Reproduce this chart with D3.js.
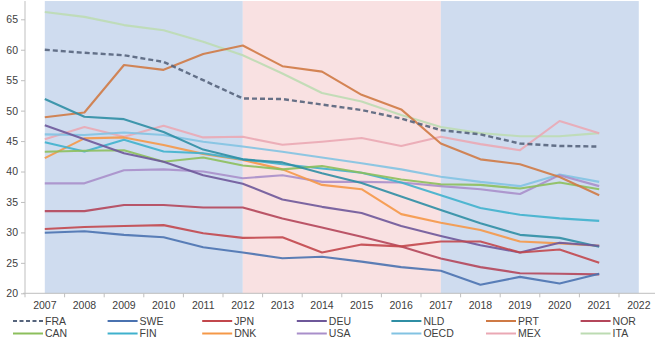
<!DOCTYPE html>
<html>
<head>
  <meta charset="utf-8">
  <title>chart</title>
  <style>
    body { margin: 0; padding: 0; background: #fff; }
    svg { display: block; font-family: "Liberation Sans", Arial, sans-serif; }
  </style>
</head>
<body>
  <script src="https://d3js.org/d3.v7.min.js"></script>
  <div id="my_dataviz"></div>
  <script>
    // categories on the axis
    var axisYears = [2007, 2008, 2009, 2010, 2011, 2012, 2013, 2014, 2015, 2016, 2017, 2018, 2019, 2020, 2021, 2022]
    var years = [2007, 2008, 2009, 2010, 2011, 2012, 2013, 2014, 2015, 2016, 2017, 2018, 2019, 2020, 2021]
    var yTicks = [20, 25, 30, 35, 40, 45, 50, 55, 60, 65]

    // shaded periods (start, end year)
    var periods = [[2007, 2012, "#cfdcef"], [2012, 2017, "#f9e1e2"], [2017, 2022, "#cfdcef"]]

    // series values
    var FRA = [60.0, 59.5, 59.1, 58.0, 55.0, 52.0, 51.9, 51.0, 50.1, 48.7, 46.8, 46.1, 44.6, 44.2, 44.1]
    var SWE = [29.95, 30.2, 29.6, 29.2, 27.55, 26.7, 25.75, 26.0, 25.2, 24.3, 23.7, 21.4, 22.7, 21.6, 23.2]
    var JPN = [30.55, 30.9, 31.05, 31.2, 29.85, 29.1, 29.2, 26.7, 28.0, 27.7, 28.5, 28.5, 26.7, 27.2, 25.0]
    var DEU = [47.6, 45.3, 43.0, 41.6, 39.4, 38.0, 35.4, 34.2, 33.2, 31.05, 29.4, 27.9, 26.7, 28.3, 27.8]
    var NLD = [51.9, 49.0, 48.6, 46.5, 43.6, 42.0, 41.5, 39.7, 38.1, 35.9, 33.7, 31.5, 29.6, 29.1, 27.65]
    var PRT = [48.9, 49.7, 57.5, 56.7, 59.3, 60.7, 57.3, 56.4, 52.6, 50.2, 44.6, 42.0, 41.2, 39.1, 36.1]
    var NOR = [33.5, 33.5, 34.5, 34.5, 34.1, 34.1, 32.3, 30.8, 29.3, 27.7, 25.7, 24.3, 23.3, 23.2, 23.1]
    var CAN = [43.25, 43.4, 43.5, 41.6, 42.3, 41.0, 40.35, 40.9, 39.8, 38.7, 37.9, 37.8, 37.2, 38.2, 37.1]
    var FIN = [44.8, 43.3, 45.2, 43.3, 43.0, 42.0, 41.2, 40.5, 39.8, 38.2, 36.1, 34.0, 32.9, 32.3, 31.9]
    var DNK = [42.2, 45.45, 45.6, 44.35, 42.9, 41.9, 40.35, 37.8, 37.1, 33.0, 31.6, 30.4, 28.5, 28.2, 27.8]
    var USA = [38.06, 38.06, 40.2, 40.35, 40.0, 38.9, 39.4, 38.3, 38.3, 38.2, 37.6, 37.1, 36.3, 39.4, 37.6]
    var OECD = [46.1, 46.0, 46.4, 46.0, 44.9, 44.1, 43.25, 42.3, 41.35, 40.35, 39.15, 38.3, 37.6, 39.5, 38.3]
    var MEX = [45.3, 47.3, 45.7, 47.5, 45.6, 45.7, 44.4, 44.9, 45.5, 44.2, 45.7, 44.5, 43.5, 48.3, 46.3]
    var ITA = [66.2, 65.4, 64.05, 63.2, 61.3, 59.1, 56.1, 52.9, 51.5, 49.3, 47.3, 46.3, 45.8, 45.8, 46.3]

    var names = ["FRA", "SWE", "JPN", "DEU", "NLD", "PRT", "NOR", "CAN", "FIN", "DNK", "USA", "OECD", "MEX", "ITA"]
    var values = [FRA, SWE, JPN, DEU, NLD, PRT, NOR, CAN, FIN, DNK, USA, OECD, MEX, ITA]
    var colors = ["#56647c", "#4a72b0", "#c2474c", "#6e589a", "#2f8ea4", "#cf7a45", "#b4465a",
      "#8cbf5c", "#3fb1cd", "#f59848", "#a98fca", "#82c3e2", "#eaa8b4", "#bcdbb2"]

    var width = 655, height = 344

    var svg = d3.select("#my_dataviz")
      .append("svg")
      .attr("width", width)
      .attr("height", height)

    var x = d3.scaleBand()
      .domain(axisYears)
      .range([25, 25 + 16 * 39.6])
      .padding(0)
    var cx = function (yr) { return x(yr) + x.bandwidth() / 2 }

    var y = d3.scaleLinear()
      .domain([20, 65])
      .range([293.3, 19.3])

    // background bands
    svg.selectAll("rect.band")
      .data(periods)
      .enter().append("rect")
      .attr("class", "band")
      .attr("x", function (d) { return cx(d[0]) })
      .attr("width", function (d) { return cx(d[1]) - cx(d[0]) })
      .attr("y", y(68))
      .attr("height", y(20) - y(68))
      .attr("fill", function (d) { return d[2] })

    // y axis
    var yAxis = svg.append("g")
      .attr("transform", "translate(25,0)")
      .call(d3.axisLeft(y).tickValues(yTicks).tickSize(4).tickPadding(3))
    yAxis.select(".domain").remove()
    svg.append("line")
      .attr("x1", 25).attr("x2", 25)
      .attr("y1", y(68)).attr("y2", y(20))
      .attr("stroke", "#bfbfbf")

    // x axis, ticks between categories
    var xAxis = svg.append("g")
      .attr("transform", "translate(0," + y(20) + ")")
      .call(d3.axisBottom(x).tickSize(0).tickPadding(8))
    xAxis.select(".domain").remove()
    svg.append("line")
      .attr("x1", 23).attr("x2", width)
      .attr("y1", y(20)).attr("y2", y(20))
      .attr("stroke", "#bfbfbf")
    svg.selectAll("line.xtick")
      .data(axisYears)
      .enter().append("line")
      .attr("class", "xtick")
      .attr("x1", function (d) { return x(d) }).attr("x2", function (d) { return x(d) })
      .attr("y1", y(20)).attr("y2", y(20) + 4)
      .attr("stroke", "#bfbfbf")

    svg.selectAll(".tick line").attr("stroke", "#bfbfbf")
    svg.selectAll(".tick text")
      .attr("fill", "#404040")
      .style("font-size", "10.5px")
      .style("font-family", "'Liberation Sans', Arial, sans-serif")

    // lines
    var line = d3.line()
      .x(function (d, i) { return cx(years[i]) })
      .y(function (d) { return y(d) })

    for (var s = values.length - 1; s >= 0; s--) {
      svg.append("path")
        .datum(values[s])
        .attr("fill", "none")
        .attr("stroke", colors[s])
        .attr("stroke-width", s == 0 ? 2.4 : 2.1)
        .attr("stroke-opacity", 0.9)
        .attr("stroke-linejoin", "round")
        .style("stroke-dasharray", s == 0 ? "5,3" : null)
        .attr("d", line)
    }

    // legend, 2 rows of 7
    var legend = svg.append("g")
    names.forEach(function (n, i) {
      var col = i % 7, row = Math.floor(i / 7)
      var lx = 13 + col * 94.6, ly = 321 + row * 12.5
      legend.append("line")
        .attr("x1", lx).attr("x2", lx + 30)
        .attr("y1", ly).attr("y2", ly)
        .attr("stroke", colors[i])
        .attr("stroke-width", 2)
        .style("stroke-dasharray", i == 0 ? "4,2.5" : null)
      legend.append("text")
        .attr("x", lx + 32)
        .attr("y", ly)
        .attr("dy", "0.35em")
        .attr("fill", "#404040")
        .style("font-size", "10.5px")
        .text(n)
    })
  </script>
</body>
</html>
